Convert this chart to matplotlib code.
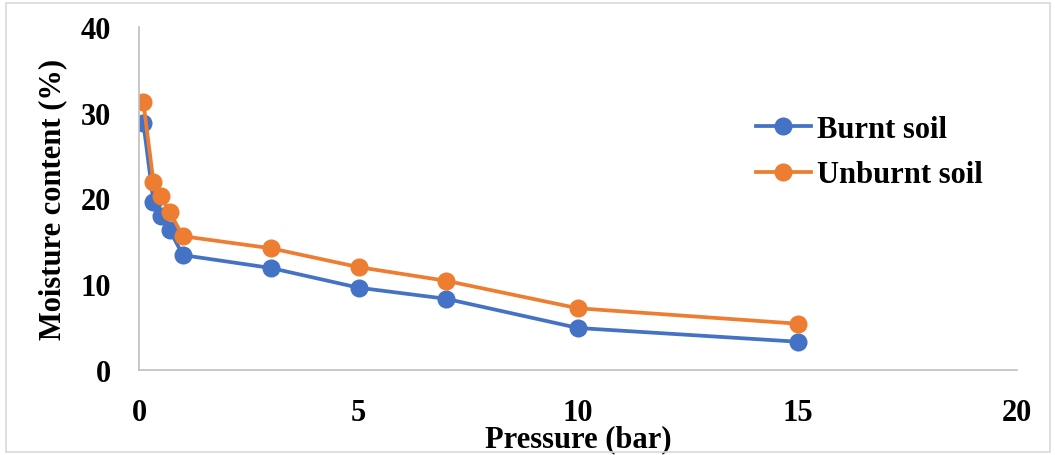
import matplotlib
matplotlib.use('Agg')
import matplotlib.pyplot as plt
from matplotlib.patches import Rectangle

# data
pressure = [0.1, 0.33, 0.5, 0.7, 1, 3, 5, 7, 10, 15]
burnt = [28.8, 19.6, 18.0, 16.3, 13.4, 11.9, 9.6, 8.3, 4.9, 3.3]
unburnt = [31.2, 21.9, 20.3, 18.4, 15.6, 14.2, 12.0, 10.4, 7.2, 5.4]
labels = ['Burnt soil', 'Unburnt soil']
xticks = [0, 5, 10, 15, 20]
yticks = [0, 10, 20, 30, 40]

plt.rcParams['font.family'] = ['Liberation Serif', 'DejaVu Serif']
plt.rcParams['font.weight'] = 'bold'

fig = plt.figure(figsize=(10.55, 4.56), dpi=100)
ax = fig.add_axes([139/1055, 85/456, (1017-139)/1055, (371-28)/456])

ax.plot(pressure, burnt, color='#4472C4', lw=2.7, marker='o', ms=12, label=labels[0])
ax.plot(pressure, unburnt, color='#ED7D31', lw=2.7, marker='o', ms=12, label=labels[1])

ax.set_xlim(0, 20)
ax.set_ylim(0, 40)
ax.set_xticks(xticks)
ax.set_yticks(yticks)
ax.tick_params(length=0, labelsize=22, pad=20)
ax.tick_params(axis='y', pad=20)
for lab in ax.get_xticklabels() + ax.get_yticklabels():
    lab.set_fontweight('bold')

for s in ['top', 'right']:
    ax.spines[s].set_visible(False)
for s in ['left', 'bottom']:
    ax.spines[s].set_color('#bfbfbf')
    ax.spines[s].set_linewidth(1.2)

ax.set_xlabel('Pressure (bar)', fontsize=22, fontweight='bold', labelpad=-2)
ax.set_ylabel('Moisture content (%)', fontsize=22, fontweight='bold', labelpad=10)

fig.legend(loc='center left', bbox_to_anchor=(728/1055, 1 - 153/456), frameon=False,
           prop={'size': 22, 'weight': 'bold'}, handlelength=1.8, handletextpad=0.2,
           labelspacing=0.55)

fig.patches.append(Rectangle((6/1055, 3/456), 1044/1055, 449/456, transform=fig.transFigure,
                             fill=False, edgecolor='#d9d9d9', lw=1.2))

fig.savefig('out.png', dpi=100)
